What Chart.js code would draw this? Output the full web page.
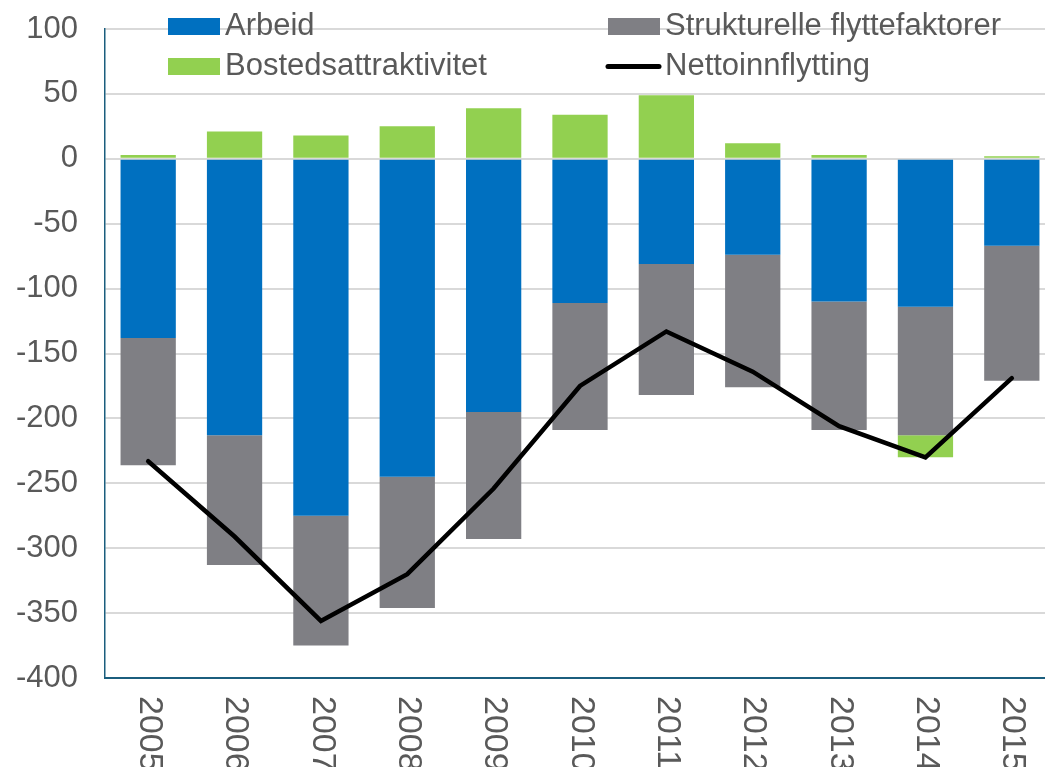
<!DOCTYPE html>
<html>
<head>
<meta charset="utf-8">
<script src="https://cdn.jsdelivr.net/npm/chart.js@4"></script>
<style>
html,body{margin:0;padding:0;overflow:hidden;background:#fff;width:1045px;height:767px;}
canvas{display:block;}
</style>
</head>
<body>
<canvas id="c" width="1055" height="767"></canvas>
<script>
const years = ['2005','2006','2007','2008','2009','2010','2011','2012','2013','2014','2015'];
const arbeid = [-138,-213,-275,-245,-195,-111,-81,-74,-110,-114,-67];
const strukturelle = [-98,-100,-100,-101,-98,-98,-101,-102,-99,-99,-104];
const bosted = [3,21,18,25,39,34,49,12,3,-17,2];
const netto = [-233,-291,-356,-320,-254,-175,-133,-164,-206,-230,-169];
const yTicks = {min:-400, max:100, step:50};

const FONT = '"Liberation Sans", Arial, sans-serif';
const TEXT = '#595959';

const legendPlugin = {
  id: 'customLegend',
  afterDraw(chart) {
    const ctx = chart.ctx;
    const ds = chart.data.datasets;
    const items = [
      {d: ds[0], x: 168, y: 18},
      {d: ds[1], x: 608, y: 18},
      {d: ds[2], x: 168, y: 58},
      {d: ds[3], x: 608, y: 58}
    ];
    ctx.save();
    ctx.font = '31px ' + FONT;
    ctx.textBaseline = 'middle';
    ctx.textAlign = 'left';
    items.forEach(it => {
      if (it.d.type === 'line') {
        ctx.strokeStyle = it.d.borderColor;
        ctx.lineWidth = 5;
        ctx.lineCap = 'round';
        ctx.beginPath();
        ctx.moveTo(it.x, it.y + 8.5);
        ctx.lineTo(it.x + 51, it.y + 8.5);
        ctx.stroke();
      } else {
        ctx.fillStyle = it.d.backgroundColor;
        ctx.fillRect(it.x, it.y, 52, 17);
      }
      ctx.fillStyle = TEXT;
      ctx.fillText(it.d.label, it.x + 57, it.y + 8);
    });
    ctx.restore();
  }
};

const xLabelPlugin = {
  id: 'xLabels',
  afterDraw(chart) {
    const ctx = chart.ctx;
    const xs = chart.scales.x;
    ctx.save();
    ctx.font = '34px ' + FONT;
    ctx.fillStyle = TEXT;
    ctx.textAlign = 'left';
    ctx.textBaseline = 'middle';
    chart.data.labels.forEach((lab, i) => {
      const x = xs.getPixelForTick(i);
      ctx.save();
      ctx.translate(x + 1, 696);
      ctx.rotate(Math.PI / 2);
      ctx.fillText(lab, 0, 0);
      ctx.restore();
    });
    ctx.restore();
  }
};

new Chart(document.getElementById('c'), {
  data: {
    labels: years,
    datasets: [
      {type:'bar', label:'Arbeid', data: arbeid, backgroundColor:'#0070C0', stack:'s', order:1},
      {type:'bar', label:'Strukturelle flyttefaktorer', data: strukturelle, backgroundColor:'#7F7F84', stack:'s', order:1},
      {type:'bar', label:'Bostedsattraktivitet', data: bosted, backgroundColor:'#92D050', stack:'s', order:1},
      {type:'line', label:'Nettoinnflytting', data: netto, borderColor:'#000000', borderWidth:4.5, pointRadius:0, tension:0, fill:false, stack:'line', order:0, borderCapStyle:'round', borderJoinStyle:'miter'}
    ]
  },
  options: {
    responsive: false,
    animation: false,
    devicePixelRatio: 1,
    layout: {padding: {top: 29, right: 0, bottom: 0, left: 0}},
    plugins: {legend: {display: false}, tooltip: {enabled: false}},
    datasets: {bar: {barPercentage: 1, categoryPercentage: 0.64}},
    scales: {
      x: {
        stacked: true,
        grid: {display: false, drawTicks: false},
        border: {display: true, color: '#1B5E7E', width: 2},
        ticks: {display: false},
        afterFit(s) { s.height = 89; s.paddingLeft = 0; s.paddingRight = 0; }
      },
      y: {
        stacked: true,
        min: yTicks.min, max: yTicks.max,
        ticks: {stepSize: yTicks.step, color: TEXT, font: {family: FONT, size: 31}, padding: 27},
        grid: {color: '#D9D9D9', lineWidth: 2, drawTicks: false},
        border: {display: true, color: '#1B5E7E', width: 1.5},
        afterFit(s) { s.width = 105; s.paddingTop = 0; s.paddingBottom = 0; }
      }
    }
  },
  plugins: [legendPlugin, xLabelPlugin]
});
</script>
</body>
</html>
